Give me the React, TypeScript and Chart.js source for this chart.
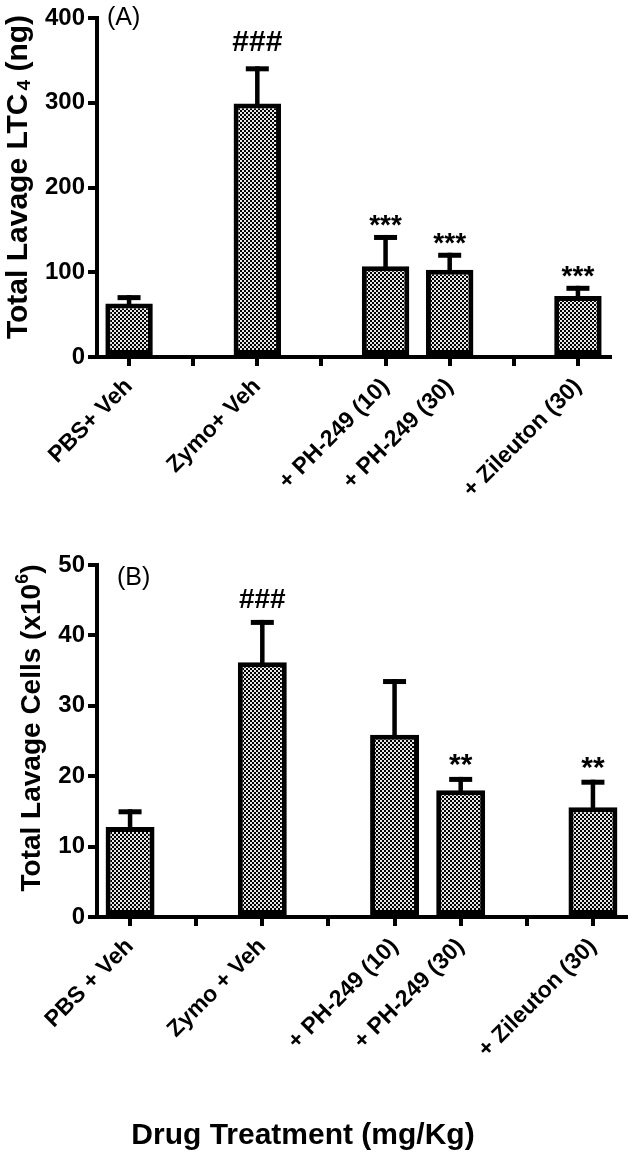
import React, { useEffect, useRef } from 'react';
import { Chart, registerables } from 'chart.js';

Chart.register(...registerables);

const FONT = "'Liberation Sans', Arial, Helvetica, sans-serif";

// ---- data ----
const topLabels = ['PBS+ Veh', '', 'Zymo+ Veh', '', '+ PH-249 (10)', '+ PH-249 (30)', '', '+ Zileuton (30)'];
const bottomLabels = ['PBS + Veh', '', 'Zymo + Veh', '', '+ PH-249 (10)', '+ PH-249 (30)', '', '+ Zileuton (30)'];

const ltc4Mean = [63, null, 299, null, 107, 103, null, 72];
const ltc4Sem = [10, null, 44, null, 37, 20, null, 12];
const ltc4Sig = ['', '', '###', '', '***', '***', '', '***'];
const ltc4Ticks = [0, 100, 200, 300, 400];

const cellsMean = [12.8, null, 36.2, null, 25.9, 18.0, null, 15.6];
const cellsSem = [2.5, null, 6.0, null, 7.9, 1.9, null, 3.9];
const cellsSig = ['', '', '###', '', '', '**', '', '**'];
const cellsTicks = [0, 10, 20, 30, 40, 50];

type Part = { text: string; size: number; dy: number; gap?: number };

interface PanelCfg {
  width: number;
  height: number;
  labels: string[];
  mean: (number | null)[];
  sem: (number | null)[];
  sig: string[];
  ticks: number[];
  padTop: number;
  padRight: number;
  xAxisHeight: number;
  panel: string;
  panelX: number;
  panelY: number;
  titleParts: Part[];
  titleX: number;
  titleY: number;
  starFont: number;
  starOffset: number;
  hashFont: number;
  hashOffset: number;
  xTitle?: string;
  xTitleX?: number;
  xTitleY?: number;
}

function makePattern(): CanvasPattern | string {
  const pc = document.createElement('canvas');
  pc.width = 4;
  pc.height = 4;
  const p = pc.getContext('2d');
  if (!p) return '#888';
  p.fillStyle = '#000';
  p.fillRect(0, 0, 4, 4);
  p.fillStyle = '#e8e8e8';
  p.fillRect(0, 0, 2, 2);
  p.fillRect(2, 2, 2, 2);
  const c = document.createElement('canvas').getContext('2d');
  return (c && c.createPattern(pc, 'repeat')) || '#888';
}

function Panel({ cfg }: { cfg: PanelCfg }) {
  const ref = useRef<HTMLCanvasElement | null>(null);
  useEffect(() => {
    if (!ref.current) return;
    const pattern = makePattern();
    const annot = {
      id: 'annot',
      afterDatasetsDraw(chart: any) {
        const ctx = chart.ctx;
        const meta = chart.getDatasetMeta(0);
        const ys = chart.scales.y;
        ctx.save();
        cfg.mean.forEach((m, i) => {
          if (m == null) return;
          const bar = meta.data[i];
          const x = bar.x;
          const s = cfg.sem[i] || 0;
          const yTop = ys.getPixelForValue(m + s);
          const yBar = bar.y;
          ctx.fillStyle = '#000';
          ctx.fillRect(x - 2.25, yTop, 4.5, yBar - yTop + 2);
          ctx.fillRect(x - 11.5, yTop, 23, 5);
          const sg = cfg.sig[i];
          if (sg) {
            const isHash = sg.indexOf('#') >= 0;
            ctx.font = `bold ${isHash ? cfg.hashFont : cfg.starFont}px ${FONT}`;
            ctx.textAlign = 'center';
            ctx.textBaseline = 'alphabetic';
            ctx.fillText(sg, x, yTop - (isHash ? cfg.hashOffset : cfg.starOffset));
          }
        });
        ctx.restore();
      },
      afterDraw(chart: any) {
        const ctx = chart.ctx;
        ctx.save();
        ctx.fillStyle = '#000';
        ctx.font = `25px ${FONT}`;
        ctx.textAlign = 'left';
        ctx.textBaseline = 'middle';
        ctx.fillText(cfg.panel, cfg.panelX, cfg.panelY);
        ctx.translate(cfg.titleX, cfg.titleY);
        ctx.rotate(-Math.PI / 2);
        let total = 0;
        cfg.titleParts.forEach((p) => {
          ctx.font = `bold ${p.size}px ${FONT}`;
          total += ctx.measureText(p.text).width + (p.gap || 0);
        });
        let x = -total / 2;
        ctx.textAlign = 'left';
        ctx.textBaseline = 'alphabetic';
        cfg.titleParts.forEach((p) => {
          ctx.font = `bold ${p.size}px ${FONT}`;
          x += p.gap || 0;
          ctx.fillText(p.text, x, p.dy);
          x += ctx.measureText(p.text).width;
        });
        ctx.restore();
        if (cfg.xTitle) {
          ctx.save();
          ctx.fillStyle = '#000';
          ctx.font = `bold 30px ${FONT}`;
          ctx.textAlign = 'center';
          ctx.textBaseline = 'middle';
          ctx.fillText(cfg.xTitle, cfg.xTitleX, cfg.xTitleY);
          ctx.restore();
        }
      },
    };
    const axisGrid = {
      display: true,
      drawOnChartArea: false,
      drawTicks: true,
      tickLength: 9,
      tickWidth: 4,
      tickColor: '#000',
      color: '#000',
      lineWidth: 4,
      offset: false,
    };
    const chart = new Chart(ref.current, {
      type: 'bar',
      data: {
        labels: cfg.labels,
        datasets: [
          {
            data: cfg.mean as any,
            backgroundColor: pattern as any,
            borderColor: '#000',
            borderWidth: 5,
            borderSkipped: false,
            barPercentage: 0.74,
            categoryPercentage: 1,
          },
        ],
      },
      options: {
        responsive: false,
        animation: false,
        devicePixelRatio: 1,
        layout: { padding: { top: cfg.padTop, right: cfg.padRight, left: 0, bottom: 0 } },
        plugins: { legend: { display: false }, tooltip: { enabled: false } },
        scales: {
          x: {
            offset: true,
            grid: axisGrid as any,
            border: { display: true, color: '#000', width: 4 },
            ticks: {
              autoSkip: false,
              minRotation: 45,
              maxRotation: 45,
              color: '#000',
              padding: 7,
              font: { family: FONT, size: 23, weight: 'bold' },
            },
            afterFit: (s: any) => {
              s.height = cfg.xAxisHeight;
            },
          },
          y: {
            min: cfg.ticks[0],
            max: cfg.ticks[cfg.ticks.length - 1],
            grid: axisGrid as any,
            border: { display: true, color: '#000', width: 4 },
            ticks: {
              stepSize: cfg.ticks[1] - cfg.ticks[0],
              color: '#000',
              padding: 3,
              font: { family: FONT, size: 24, weight: 'bold' },
            },
            afterFit: (s: any) => {
              s.width = 97;
            },
          },
        },
      },
      plugins: [annot],
    });
    return () => chart.destroy();
  }, [cfg]);
  return <canvas ref={ref} width={cfg.width} height={cfg.height} style={{ width: cfg.width, height: cfg.height, display: 'block' }} />;
}

const topCfg: PanelCfg = {
  width: 633,
  height: 540,
  labels: topLabels,
  mean: ltc4Mean,
  sem: ltc4Sem,
  sig: ltc4Sig,
  ticks: ltc4Ticks,
  padTop: 18,
  padRight: 23,
  xAxisHeight: 183,
  panel: '(A)',
  panelX: 107,
  panelY: 18,
  titleParts: [
    { text: 'Total Lavage LTC', size: 30, dy: 0 },
    { text: '4', size: 19, dy: 3, gap: 3 },
    { text: ' (ng)', size: 30, dy: 0 },
  ],
  titleX: 27,
  titleY: 177,
  starFont: 28,
  starOffset: 1,
  hashFont: 30,
  hashOffset: 15,
};

const bottomCfg: PanelCfg = {
  width: 633,
  height: 617,
  labels: bottomLabels,
  mean: cellsMean,
  sem: cellsSem,
  sig: cellsSig,
  ticks: cellsTicks,
  padTop: 25,
  padRight: 7,
  xAxisHeight: 240,
  panel: '(B)',
  panelX: 117,
  panelY: 38,
  titleParts: [
    { text: 'Total Lavage Cells (x10', size: 28, dy: 0 },
    { text: '6', size: 18, dy: -12 },
    { text: ')', size: 28, dy: 0 },
  ],
  titleX: 40,
  titleY: 188,
  starFont: 30,
  starOffset: 3,
  hashFont: 28,
  hashOffset: 12,
  xTitle: 'Drug Treatment (mg/Kg)',
  xTitleX: 303,
  xTitleY: 596,
};

export default function App() {
  return (
    <div style={{ position: 'absolute', left: 0, top: 0, width: 633, height: 1157, background: '#fff' }}>
      <div style={{ position: 'absolute', left: 0, top: 0 }}>
        <Panel cfg={topCfg} />
      </div>
      <div style={{ position: 'absolute', left: 0, top: 540 }}>
        <Panel cfg={bottomCfg} />
      </div>
    </div>
  );
}
